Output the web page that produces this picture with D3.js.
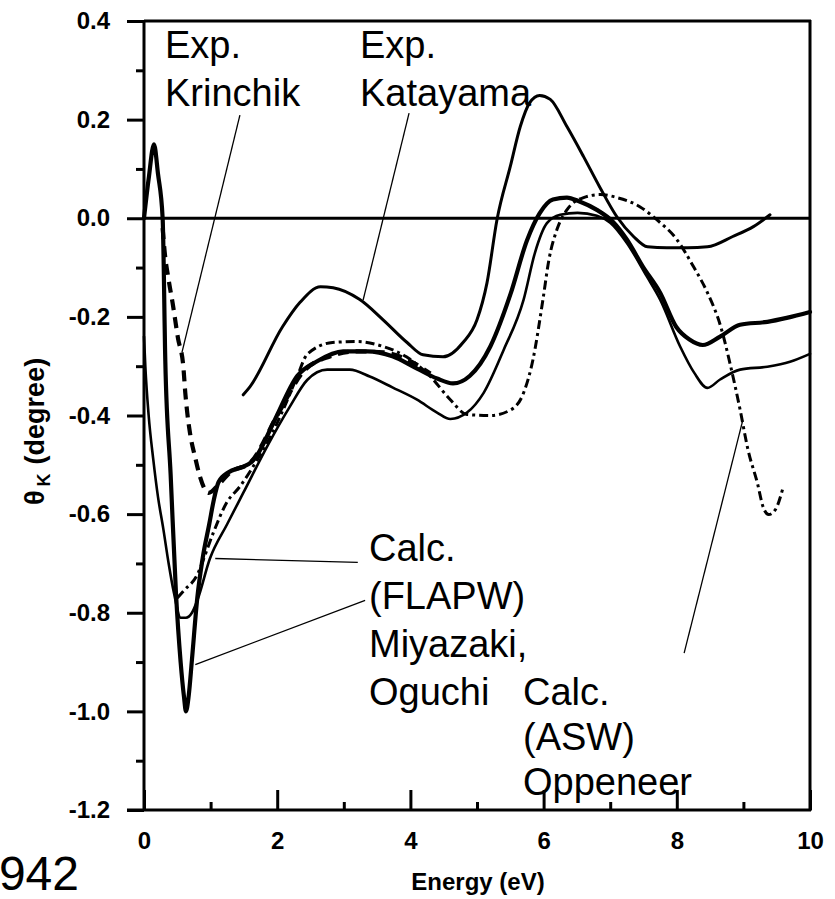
<!DOCTYPE html>
<html><head><meta charset="utf-8">
<script src="https://cdn.jsdelivr.net/npm/d3@7"></script>
<style>
html,body{margin:0;padding:0;background:#fff;}
svg{display:block;}
text{font-family:"Liberation Sans",Arial,Helvetica,sans-serif;fill:#000;}
</style></head>
<body>
<svg id="chart" width="835" height="899"></svg>
<script>
// ---- data ----
const energyThick = [0, 0.07, 0.15, 0.21, 0.28, 0.32, 0.40, 0.48, 0.55, 0.60, 0.63, 0.67, 0.72, 0.80, 0.88, 0.98, 1.05, 1.12, 1.27, 1.46, 1.61, 1.70, 1.96, 2.30, 2.60, 2.99, 3.35, 3.73, 4.10, 4.40, 4.64, 4.89, 5.20, 5.50, 5.75, 5.94, 6.14, 6.35, 6.54, 6.80, 7.04, 7.25, 7.49, 7.75, 7.99, 8.19, 8.39, 8.65, 8.95, 9.36, 9.65, 10.0];
const thetaThick  = [0, 0.08, 0.15, 0.09, 0, -0.29, -0.52, -0.76, -0.90, -0.97, -1.0, -0.97, -0.895, -0.77, -0.69, -0.62, -0.57, -0.535, -0.515, -0.505, -0.495, -0.48, -0.41, -0.32, -0.29, -0.27, -0.27, -0.28, -0.305, -0.325, -0.335, -0.32, -0.26, -0.155, -0.045, 0.01, 0.038, 0.042, 0.034, 0.017, -0.007, -0.043, -0.098, -0.151, -0.22, -0.246, -0.257, -0.24, -0.216, -0.21, -0.202, -0.19];

const energyThin = [0, 0.02, 0.07, 0.14, 0.21, 0.29, 0.37, 0.45, 0.55, 0.63, 0.72, 0.80, 0.99, 1.25, 1.49, 1.86, 2.19, 2.45, 2.75, 3.09, 3.39, 3.73, 4.10, 4.40, 4.60, 4.85, 5.10, 5.40, 5.70, 5.87, 6.05, 6.25, 6.51, 6.80, 7.00, 7.25, 7.55, 7.75, 8.05, 8.26, 8.46, 8.65, 8.95, 9.36, 9.70, 10.0];
const thetaThin  = [-0.24, -0.30, -0.40, -0.49, -0.565, -0.63, -0.70, -0.76, -0.81, -0.81, -0.80, -0.775, -0.69, -0.62, -0.557, -0.46, -0.382, -0.328, -0.307, -0.307, -0.321, -0.343, -0.368, -0.394, -0.407, -0.394, -0.354, -0.267, -0.165, -0.07, -0.01, 0.007, 0.011, 0.005, -0.009, -0.05, -0.118, -0.165, -0.26, -0.313, -0.344, -0.327, -0.307, -0.301, -0.291, -0.275];

const energyASW = [0.50, 0.60, 0.81, 0.85, 1.04, 1.24, 1.44, 1.70, 1.90, 2.09, 2.30, 2.45, 2.83, 3.20, 3.59, 3.94, 4.30, 4.60, 4.85, 5.20, 5.50, 5.70, 5.84, 5.99, 6.08, 6.20, 6.35, 6.60, 6.85, 7.10, 7.45, 7.70, 8.00, 8.25, 8.46, 8.66, 8.81, 8.95, 9.07, 9.21, 9.30, 9.38, 9.48, 9.60];
const thetaASW  = [-0.77, -0.755, -0.72, -0.707, -0.638, -0.577, -0.544, -0.49, -0.443, -0.388, -0.321, -0.276, -0.252, -0.25, -0.26, -0.281, -0.321, -0.368, -0.398, -0.40, -0.389, -0.354, -0.287, -0.165, -0.084, -0.023, 0.017, 0.042, 0.048, 0.042, 0.023, -0.003, -0.043, -0.098, -0.151, -0.22, -0.301, -0.388, -0.47, -0.537, -0.587, -0.601, -0.591, -0.544];

const energyKatayama = [1.49, 1.59, 2.08, 2.34, 2.65, 2.84, 3.24, 3.59, 3.95, 4.19, 4.49, 4.79, 5.00, 5.15, 5.30, 5.50, 5.65, 5.79, 5.94, 6.10, 6.35, 6.60, 6.84, 7.10, 7.35, 7.56, 7.85, 8.16, 8.46, 8.84, 9.15, 9.40];
const thetaKatayama  = [-0.358, -0.342, -0.22, -0.171, -0.139, -0.141, -0.165, -0.206, -0.252, -0.277, -0.281, -0.252, -0.206, -0.131, -0.003, 0.105, 0.186, 0.234, 0.249, 0.241, 0.186, 0.125, 0.064, 0.003, -0.037, -0.058, -0.06, -0.06, -0.058, -0.037, -0.017, 0.007];

const energyKrinchik = [0.28, 0.31, 0.37, 0.43, 0.51, 0.59, 0.62, 0.65, 0.69, 0.77, 0.84, 0.97, 1.12, 1.30, 1.60, 2.00, 2.40, 2.80, 3.20, 3.60, 4.00, 4.30];
const thetaKrinchik  = [-0.02, -0.068, -0.125, -0.172, -0.243, -0.30, -0.354, -0.395, -0.435, -0.486, -0.524, -0.557, -0.54, -0.515, -0.495, -0.40, -0.31, -0.28, -0.27, -0.272, -0.29, -0.315];

const xTickValues = [0, 2, 4, 6, 8, 10];
const xTickLabels = ["0", "2", "4", "6", "8", "10"];
const xMinorTicks = [1, 3, 5, 7, 9];
const yTickValues = [0.4, 0.2, 0.0, -0.2, -0.4, -0.6, -0.8, -1.0, -1.2];
const yTickLabels = ["0.4", "0.2", "0.0", "-0.2", "-0.4", "-0.6", "-0.8", "-1.0", "-1.2"];
const yMinorTicks = [0.3, 0.1, -0.1, -0.3, -0.5, -0.7, -0.9, -1.1];

// annotation leader lines in data coordinates [E1, th1, E2, th2]
const leaderKrinchik = [1.44, 0.209, 0.57, -0.272];
const leaderKatayama = [3.98, 0.213, 3.29, -0.166];
const leaderFLAPW1 = [1.07, -0.69, 3.21, -0.698];
const leaderFLAPW2 = [0.77, -0.905, 3.32, -0.775];
const leaderASW = [8.99, -0.41, 8.11, -0.882];

// ---- drawing ----
const svg = d3.select("#chart");
svg.append("rect").attr("width", 835).attr("height", 899).attr("fill", "#fff");

const x = d3.scaleLinear().domain([0, 10]).range([144, 810]);
const y = d3.scaleLinear().domain([-1.2, 0.4]).range([810, 21]);
const X0 = x(0), X1 = x(10), Y0 = y(-1.2), Y1 = y(0.4);

// y axis (ticks outward)
const yAxisMajor = d3.axisLeft(y).tickValues(yTickValues).tickSize(17).tickPadding(17)
  .tickFormat((d, i) => yTickLabels[i]);
const gy = svg.append("g").attr("transform", `translate(${X0},0)`).call(yAxisMajor);
const gyMinor = svg.append("g").attr("transform", `translate(${X0},0)`)
  .call(d3.axisLeft(y).tickValues(yMinorTicks).tickSize(8).tickFormat(""));

// x axis (ticks inward)
const gx = svg.append("g").attr("transform", `translate(0,${Y0})`)
  .call(d3.axisBottom(x).tickValues(xTickValues).tickSize(-20).tickPadding(22)
    .tickFormat((d, i) => xTickLabels[i]));
const gxMinor = svg.append("g").attr("transform", `translate(0,${Y0})`)
  .call(d3.axisBottom(x).tickValues(xMinorTicks).tickSize(-8).tickFormat(""));

[gy, gyMinor, gx, gxMinor].forEach(g => {
  g.select(".domain").remove();
  g.selectAll(".tick line").attr("stroke", "#000").attr("stroke-width", 3);
  g.selectAll(".tick text").attr("font-size", 24).attr("font-weight", "bold")
    .attr("font-family", "'Liberation Sans', Arial, sans-serif").attr("fill", "#000");
});

// frame
const frame = svg.append("g").attr("stroke", "#000").attr("stroke-width", 3).attr("fill", "none");
frame.append("line").attr("x1", X0).attr("x2", X0).attr("y1", Y1 - 1).attr("y2", Y0 + 1);
frame.append("line").attr("x1", X0 - 17).attr("x2", X1 + 1).attr("y1", Y0).attr("y2", Y0);
frame.append("line").attr("x1", X0).attr("x2", X1 + 1).attr("y1", Y1).attr("y2", Y1);
frame.append("line").attr("x1", X1).attr("x2", X1).attr("y1", Y1 - 1).attr("y2", Y0 + 1);
// zero line
frame.append("line").attr("x1", X0).attr("x2", X1).attr("y1", y(0)).attr("y2", y(0));

// curves
const line = d3.line().x(d => x(d[0])).y(d => y(d[1])).curve(d3.curveMonotoneX);
const zip = (a, b) => a.map((v, i) => [v, b[i]]);
const curves = svg.append("g").attr("fill", "none").attr("stroke", "#000")
  .attr("stroke-linejoin", "round").attr("stroke-linecap", "round");

curves.append("path").datum(zip(energyThin, thetaThin)).attr("d", line).attr("stroke-width", 2.6);
curves.append("path").datum(zip(energyKatayama, thetaKatayama)).attr("d", line).attr("stroke-width", 3);
curves.append("path").datum(zip(energyASW, thetaASW)).attr("d", line).attr("stroke-width", 3)
  .attr("stroke-linecap", "butt").attr("stroke-dasharray", "9,4,3,4");
curves.append("path").datum(zip(energyThick, thetaThick)).attr("d", line).attr("stroke-width", 4.2);
curves.append("path").datum(zip(energyKrinchik, thetaKrinchik)).attr("d", line).attr("stroke-width", 4.2)
  .attr("stroke-linecap", "butt").attr("stroke-dasharray", "11,7");

// leader lines
const leaders = svg.append("g").attr("stroke", "#000").attr("stroke-width", 1.3);
[leaderKrinchik, leaderKatayama, leaderFLAPW1, leaderFLAPW2, leaderASW].forEach(l => {
  leaders.append("line").attr("x1", x(l[0])).attr("y1", y(l[1])).attr("x2", x(l[2])).attr("y2", y(l[3]));
});

// annotation text
function block(x0, baselines, lines) {
  const t = svg.append("g");
  lines.forEach((s, i) => {
    t.append("text").attr("x", x0).attr("y", baselines[i]).attr("font-size", 38).text(s);
  });
}
block(165, [58, 106], ["Exp.", "Krinchik"]);
block(360, [58, 106], ["Exp.", "Katayama"]);
block(369, [561, 609, 657, 705], ["Calc.", "(FLAPW)", "Miyazaki,", "Oguchi"]);
block(523, [705, 750, 795], ["Calc.", "(ASW)", "Oppeneer"]);

// axis titles
svg.append("text").attr("x", 478).attr("y", 890).attr("text-anchor", "middle")
  .attr("font-size", 24).attr("font-weight", "bold").text("Energy (eV)");

const yl = svg.append("text").attr("transform", "translate(44,505) rotate(-90)")
  .attr("font-weight", "bold").attr("font-size", 27);
yl.append("tspan").text("θ");
yl.append("tspan").attr("font-size", 18).attr("dy", 6).attr("dx", 4).text("K");
yl.append("tspan").attr("dy", -6).attr("dx", 9).text("(degree)");

// figure number fragment
svg.append("text").attr("x", 79).attr("y", 890).attr("text-anchor", "end")
  .attr("font-size", 48).text("942");
</script>
</body></html>
